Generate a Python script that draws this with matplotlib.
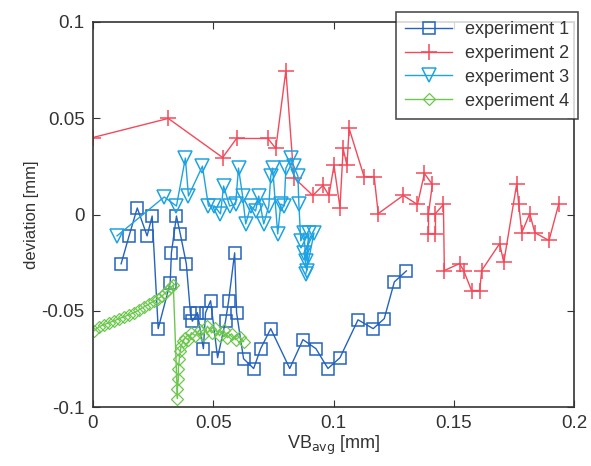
import matplotlib
matplotlib.use("Agg")
import matplotlib.pyplot as plt

plt.rcParams['font.family'] = ['Liberation Sans', 'DejaVu Sans']

# experiment 1 (squares)
e1_x = [0.0117, 0.0150, 0.0184, 0.0225, 0.0246, 0.0271, 0.0321, 0.0326, 0.0347, 0.0363,
        0.0388, 0.0405, 0.0413, 0.0434, 0.0459, 0.0468, 0.0489, 0.0518, 0.0551, 0.0564,
        0.0589, 0.0597, 0.0626, 0.0668, 0.0697, 0.0739, 0.0818, 0.0873, 0.0927, 0.0977,
        0.1027, 0.1102, 0.1165, 0.1211, 0.1253, 0.1303]
e1_y = [-0.0256, -0.0111, 0.0034, -0.0111, -0.0008, -0.0593, -0.0355, -0.0199, -0.0008, -0.0101,
        -0.0256, -0.0510, -0.0554, -0.0510, -0.0697, -0.0510, -0.0448, -0.0744, -0.0554, -0.0448,
        -0.0199, -0.0510, -0.0749, -0.0800, -0.0697, -0.0593, -0.0800, -0.0650, -0.0697, -0.0800,
        -0.0744, -0.0547, -0.0593, -0.0541, -0.0350, -0.0293]

# experiment 2 (plus)
e2_x = [0.0, 0.0313, 0.0539, 0.0597, 0.0727, 0.0760, 0.0802, 0.0835, 0.0914, 0.0956,
        0.0981, 0.1002, 0.1027, 0.1040, 0.1056, 0.1065, 0.1127, 0.1169, 0.1186, 0.1290,
        0.1349, 0.1378, 0.1411, 0.1395, 0.1395, 0.1424, 0.1424, 0.1457, 0.1461, 0.1524,
        0.1541, 0.1574, 0.1608, 0.1616, 0.1691, 0.1708, 0.1762, 0.1770, 0.1783, 0.1816,
        0.1837, 0.1896, 0.1937]
e2_y = [0.0400, 0.0499, 0.0296, 0.0395, 0.0395, 0.0343, 0.0748, 0.0192, 0.0099, 0.0151,
        0.0099, 0.0255, 0.0036, 0.0343, 0.0255, 0.0447, 0.0197, 0.0197, 0.0005, 0.0099,
        0.0052, 0.0213, 0.0156, 0.0005, -0.0099, -0.0099, 0.0005, 0.0052, -0.0291, -0.0255,
        -0.0291, -0.0395, -0.0395, -0.0291, -0.0151, -0.0249, 0.0161, 0.0057, -0.0094, 0.0005,
        -0.0094, -0.0135, 0.0057]

# experiment 3 (down triangles)
e3_x = [0.0100, 0.0296, 0.0347, 0.0384, 0.0397, 0.0455, 0.0480, 0.0505, 0.0530, 0.0543,
        0.0568, 0.0593, 0.0605, 0.0622, 0.0635, 0.0656, 0.0676, 0.0689, 0.0710, 0.0731,
        0.0739, 0.0747, 0.0768, 0.0781, 0.0795, 0.0802, 0.0823, 0.0835, 0.0852, 0.0856,
        0.0864, 0.0877, 0.0885, 0.0898, 0.0889, 0.0877, 0.0919, 0.0885]
e3_y = [-0.0111, 0.0091, 0.0044, 0.0293, 0.0096, 0.0251, 0.0044, 0.0044, 0.0003, 0.0148,
        0.0044, 0.0054, 0.0241, 0.0096, -0.0049, 0.0044, 0.0018, 0.0096, -0.0049, 0.0044,
        0.0199, 0.0241, -0.0101, 0.0054, 0.0044, 0.0241, 0.0293, 0.0251, 0.0199, 0.0054,
        -0.0137, -0.0096, -0.0241, -0.0096, -0.0293, -0.0199, -0.0096, -0.0308]

# experiment 4 (diamonds)
e4_x = [0.0004, 0.0025, 0.0046, 0.0067, 0.0088, 0.0109, 0.0129, 0.0150, 0.0171, 0.0192,
        0.0213, 0.0234, 0.0255, 0.0271, 0.0288, 0.0301, 0.0313, 0.0326, 0.0334,
        0.0351, 0.0351, 0.0355, 0.0355, 0.0359, 0.0363, 0.0367, 0.0376, 0.0384, 0.0397,
        0.0409, 0.0426, 0.0443, 0.0459, 0.0476, 0.0493, 0.0509, 0.0526, 0.0543, 0.0559,
        0.0576, 0.0593, 0.0610, 0.0626]
e4_y = [-0.0604, -0.0583, -0.0572, -0.0562, -0.0552, -0.0541, -0.0531, -0.0521, -0.0510, -0.0495,
        -0.0479, -0.0464, -0.0448, -0.0438, -0.0422, -0.0407, -0.0391, -0.0376, -0.0365,
        -0.0956, -0.0904, -0.0852, -0.0800, -0.0749, -0.0707, -0.0681, -0.0655, -0.0640, -0.0650,
        -0.0614, -0.0630, -0.0598, -0.0625, -0.0580, -0.0615, -0.0590, -0.0630, -0.0600, -0.0640,
        -0.0620, -0.0650, -0.0635, -0.0660]

labels = ['experiment 1', 'experiment 2', 'experiment 3', 'experiment 4']
colors = ['#2563bd', '#f24a5a', '#1ea3e2', '#6cc74e']

x_ticks = [0, 0.05, 0.1, 0.15, 0.2]
x_tick_labels = ['0', '0.05', '0.1', '0.15', '0.2']
y_ticks = [-0.1, -0.05, 0, 0.05, 0.1]
y_tick_labels = ['-0.1', '-0.05', '0', '0.05', '0.1']

fig = plt.figure(figsize=(5.91, 4.66), dpi=100)
ax = fig.add_axes([93/591, 1-407/466, (574-93)/591, (407-22)/466])

ax.plot(e1_x, e1_y, color=colors[0], marker='s', ms=8.5, mfc='none', mew=1.1, lw=1.0, label=labels[0])
ax.plot(e2_x, e2_y, color=colors[1], marker='+', ms=12, mew=1.1, lw=1.0, label=labels[1])
ax.plot(e3_x, e3_y, color=colors[2], marker='v', ms=10, mfc='none', mew=1.1, lw=1.0, label=labels[2])
ax.plot(e4_x, e4_y, color=colors[3], marker='D', ms=6.5, mfc='none', mew=0.9, lw=1.0, label=labels[3])

ax.set_xlim(0, 0.2)
ax.set_ylim(-0.1, 0.1)
ax.set_xticks(x_ticks)
ax.set_xticklabels(x_tick_labels)
ax.set_yticks(y_ticks)
ax.set_yticklabels(y_tick_labels)
ax.tick_params(direction='in', top=True, right=True, labelsize=13.5, colors='#333333', length=5, pad=6)
for s in ax.spines.values():
    s.set_color('#333333')
    s.set_linewidth(1.2)

ax.set_xlabel('VB$_{\\mathrm{avg}}$ [mm]', fontsize=13, color='#333333', labelpad=1)
ax.set_ylabel('deviation [mm]', fontsize=12, color='#333333', labelpad=2)

leg = fig.legend(loc='upper right', bbox_to_anchor=(578/591, 1-12/466), fontsize=13,
                 frameon=True, fancybox=False, edgecolor='#222222', borderpad=0.5,
                 labelspacing=0.38, handlelength=2.6, handletextpad=0.7, borderaxespad=0)
leg.get_frame().set_linewidth(1.2)
for t in leg.get_texts():
    t.set_color('#333333')

fig.savefig('out.png', dpi=100)
